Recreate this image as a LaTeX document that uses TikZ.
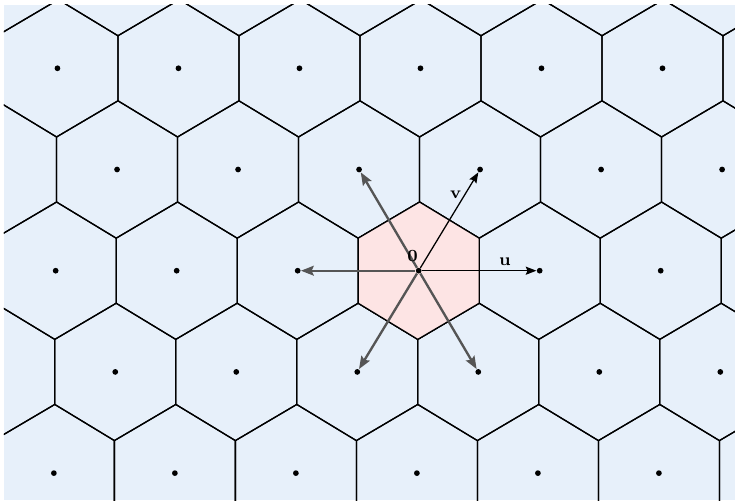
\documentclass[tikz,border=0pt]{standalone}
\usetikzlibrary{arrows.meta}
\definecolor{cellblue}{RGB}{231,240,250}
\definecolor{cellpink}{RGB}{253,228,228}
\definecolor{arrowgray}{RGB}{85,85,85}
\tikzset{
  cell/.style={draw=black, line width=0.6pt},
  dot/.style={circle, fill=black, inner sep=0pt, minimum size=2.7pt},
  basis/.style={-{Stealth[length=5pt,width=3.8pt,inset=0.8pt]}, line width=0.6pt},
  nbr/.style={-{Stealth[length=6pt,width=4.6pt,inset=1pt]}, draw=arrowgray, line width=1.1pt},
  lbl/.style={font=\footnotesize, inner sep=0pt}
}
\begin{document}
\begin{tikzpicture}[x=2cm,y=2cm]
\useasboundingbox (-3.460,-1.895) rectangle (2.614,2.237);
\fill[cellblue] (-3.427,-1.895) rectangle (2.614,2.196);
\begin{scope}
\clip (-3.427,-1.895) rectangle (2.614,2.196);
\foreach \j in {-3,...,3}
  \foreach \i in {-6,...,4}
    \draw[cell, shift={({\i+0.5074*\j},{0.8364*\j})}] (0.5,0.2688) -- (0.0074,0.5676) -- (-0.5,0.2688) -- (-0.5,-0.2688) -- (-0.0074,-0.5676) -- (0.5,-0.2688) -- cycle;
\filldraw[cell, fill=cellpink] (0.5,0.2688) -- (0.0074,0.5676) -- (-0.5,0.2688) -- (-0.5,-0.2688) -- (-0.0074,-0.5676) -- (0.5,-0.2688) -- cycle;

\foreach \j in {-3,...,3}
  \foreach \i in {-6,...,4}
    \node[dot] (p\i_\j) at ({\i+0.5074*\j},{0.8364*\j}) {};

\draw[nbr] (p0_0) -- (p-1_0);
\draw[nbr] (p0_0) -- (p-1_1);
\draw[nbr] (p0_0) -- (p0_-1);
\draw[nbr] (p0_0) -- (p1_-1);
\draw[basis] (p0_0) -- (p1_0);
\draw[basis] (p0_0) -- (p0_1);

\node[lbl] (zero) at (-0.050,0.121) {$\mathbf{0}$};
\node[lbl] (lu) at (0.713,0.074) {$\mathbf{u}$};
\node[lbl] (lv) at (0.306,0.631) {$\mathbf{v}$};
\end{scope}
\end{tikzpicture}
\end{document}
